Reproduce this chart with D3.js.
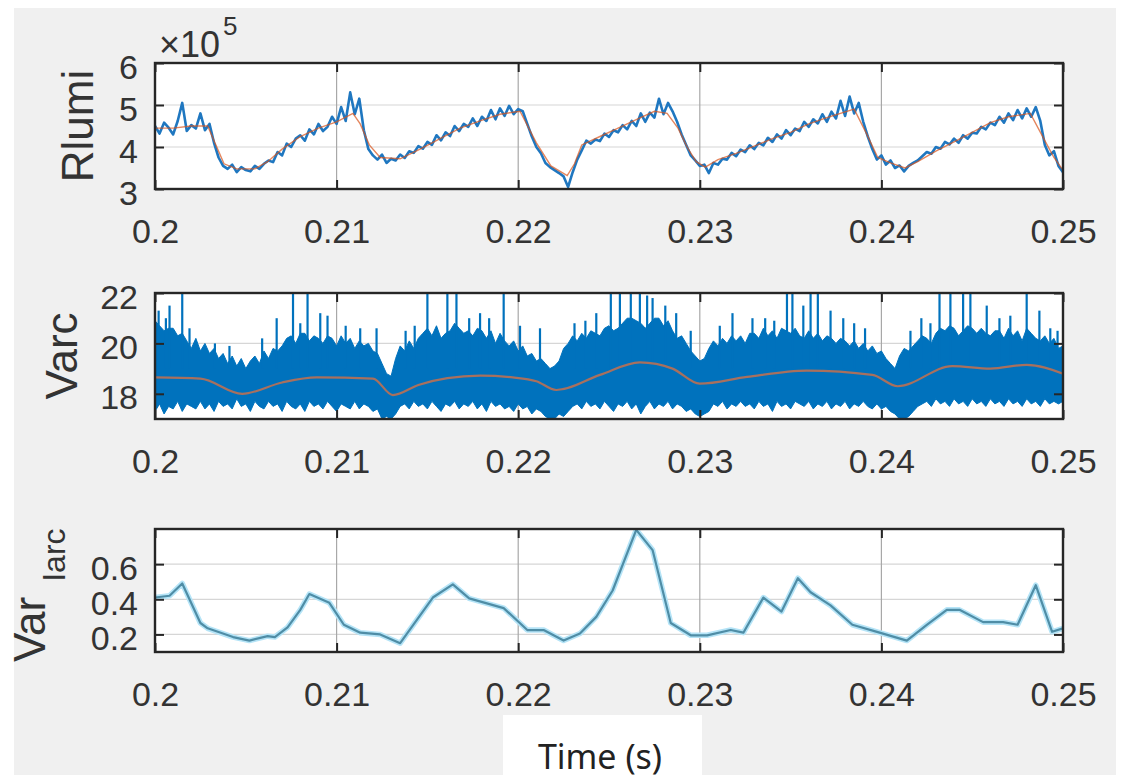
<!DOCTYPE html>
<html>
<head>
<meta charset="utf-8">
<script src="https://cdn.jsdelivr.net/npm/d3@7"></script>
<style>
  body { margin: 0; background: #ffffff; }
  svg { display: block; font-family: "Liberation Sans", Arial, sans-serif; }
</style>
</head>
<body>
<div id="chart"></div>
<script>
// ---- shared x axis ----
const xTicks = [0.2, 0.21, 0.22, 0.23, 0.24, 0.25]
const xTickLabels = ["0.2", "0.21", "0.22", "0.23", "0.24", "0.25"]

// ---- panel 1 : Rlumi (x 10^5), sampled every 0.25 ms from t = 0.2 s ----
const rlumiStart = 0.2
const rlumiStep = 0.00025
const rlumiE5 = [
  4.50, 4.32, 4.58, 4.46, 4.30, 4.62, 5.05, 4.38, 4.52, 4.44,
  4.80, 4.40, 4.55, 4.10, 3.75, 3.55, 3.48, 3.58, 3.40, 3.52,
  3.45, 3.42, 3.55, 3.48, 3.60, 3.68, 3.64, 3.88, 3.80, 4.08,
  4.00, 4.20, 4.28, 4.15, 4.42, 4.30, 4.55, 4.38, 4.48, 4.72,
  4.55, 4.95, 4.62, 5.30, 4.78, 5.15, 4.40, 3.95, 3.80, 3.70,
  3.82, 3.62, 3.72, 3.68, 3.82, 3.74, 3.90, 3.86, 4.02, 3.96,
  4.12, 4.05, 4.28, 4.16, 4.35, 4.26, 4.50, 4.38, 4.55, 4.48,
  4.68, 4.50, 4.72, 4.62, 4.88, 4.66, 4.92, 4.74, 4.98, 4.78,
  4.90, 4.85, 4.55, 4.25, 4.00, 3.85, 3.62, 3.52, 3.45, 3.38,
  3.30, 3.05, 3.40, 3.70, 3.92, 4.15, 4.08, 4.18, 4.14, 4.32,
  4.24, 4.40, 4.35, 4.52, 4.42, 4.62, 4.50, 4.80, 4.60, 4.82,
  4.70, 5.15, 4.78, 5.05, 4.85, 4.60, 4.30, 4.05, 3.80, 3.68,
  3.55, 3.58, 3.38, 3.62, 3.58, 3.72, 3.70, 3.86, 3.78, 3.94,
  3.88, 4.04, 3.95, 4.10, 4.04, 4.22, 4.12, 4.30, 4.20, 4.40,
  4.28, 4.44, 4.38, 4.60, 4.48, 4.66, 4.56, 4.78, 4.60, 4.84,
  4.68, 5.10, 4.74, 5.20, 4.80, 5.05, 4.60, 4.25, 3.95, 3.70,
  3.80, 3.58, 3.68, 3.50, 3.56, 3.42, 3.55, 3.62, 3.68, 3.78,
  3.88, 3.84, 4.00, 3.96, 4.12, 4.06, 4.20, 4.10, 4.28, 4.20,
  4.34, 4.32, 4.48, 4.42, 4.58, 4.52, 4.72, 4.58, 4.80, 4.64,
  4.88, 4.68, 4.92, 4.72, 4.95, 4.62, 4.05, 3.80, 3.90, 3.55,
  3.40
]
// smoothed Rlumi (orange)
const rlumiTrendT = [0.2000, 0.2010, 0.2020, 0.2029, 0.2033, 0.2038, 0.2045, 0.2055, 0.2062, 0.2070,
  0.2080, 0.2090, 0.2100, 0.2109, 0.2113, 0.2118, 0.2124, 0.2135, 0.2146, 0.2157,
  0.2168, 0.2179, 0.2190, 0.2201, 0.2210, 0.2218, 0.2227, 0.2231, 0.2235, 0.2245,
  0.2255, 0.2265, 0.2275, 0.2282, 0.2288, 0.2293, 0.2298, 0.2303, 0.2310, 0.2320,
  0.2330, 0.2340, 0.2350, 0.2360, 0.2370, 0.2385, 0.2392, 0.2398, 0.2405, 0.2413,
  0.2420, 0.2430, 0.2440, 0.2450, 0.2460, 0.2470, 0.2482, 0.2490, 0.2495, 0.2500]
const rlumiTrendE5 = [4.45, 4.45, 4.50, 4.50, 4.10, 3.60, 3.48, 3.48, 3.65, 3.95,
  4.25, 4.45, 4.60, 4.80, 4.55, 4.05, 3.75, 3.72, 3.95, 4.20,
  4.45, 4.62, 4.78, 4.85, 4.10, 3.55, 3.32, 3.60, 4.05, 4.25,
  4.45, 4.65, 4.85, 4.80, 4.45, 4.00, 3.65, 3.52, 3.70, 3.85,
  4.02, 4.20, 4.35, 4.55, 4.70, 4.90, 4.30, 3.75, 3.62, 3.50,
  3.65, 3.90, 4.12, 4.35, 4.58, 4.72, 4.80, 4.15, 3.75, 3.45]
const rlumiYTicks = [3, 4, 5, 6]

// ---- panel 2 : Varc, min / max envelope every 0.25 ms from t = 0.2 s ----
const varcStart = 0.2
const varcStep = 0.00025
const varcHi = [
  20.9, 20.7, 20.5, 20.6, 20.6, 20.3, 20.4, 20.1, 19.8, 20.2,
  19.7, 20.0, 19.6, 19.8, 19.4, 19.6, 19.2, 19.5, 19.1, 19.4,
  19.0, 19.3, 19.5, 19.2, 19.7, 19.4, 19.8, 19.7, 19.9, 20.2,
  20.3, 20.0, 20.4, 20.4, 20.1, 20.3, 20.2, 20.0, 20.3, 20.2,
  19.9, 20.3, 20.0, 20.2, 19.8, 20.1, 19.9, 20.0, 19.7, 19.6,
  19.2, 18.8, 18.7, 19.4, 19.9, 19.7, 20.1, 19.8, 20.2, 20.4,
  20.6, 20.3, 20.7, 20.2, 20.4, 20.5, 20.8, 20.6, 20.4, 20.5,
  20.3, 20.6, 20.5, 20.2, 20.5, 20.0, 20.4, 20.1, 19.9, 20.1,
  19.7, 19.9, 19.5, 19.6, 19.3, 19.4, 19.2, 19.0, 19.1, 19.3,
  19.8, 20.0, 20.3, 20.1, 20.4, 20.2, 20.5, 20.4, 20.3, 20.6,
  20.7, 20.5, 20.6, 20.8, 21.0, 21.0, 20.9, 20.8, 20.6, 20.8,
  21.0, 21.0, 20.7, 20.9, 20.5, 20.2, 20.3, 20.0, 19.7, 19.5,
  19.3, 19.4, 19.8, 20.1, 19.9, 20.2, 20.0, 20.3, 20.1, 20.3,
  20.0, 20.4, 20.4, 20.2, 20.6, 20.3, 20.5, 20.2, 20.6, 20.5,
  20.4, 20.6, 20.3, 20.2, 20.5, 20.2, 20.4, 20.1, 20.3, 20.2,
  20.0, 20.2, 20.1, 19.9, 20.1, 19.8, 20.0, 19.7, 19.9, 19.6,
  19.7, 19.4, 19.2, 19.0, 19.5, 19.8, 19.7, 19.9, 20.1, 20.3,
  20.2, 20.0, 20.4, 20.6, 20.5, 20.7, 20.6, 20.3, 20.5, 20.7,
  20.6, 20.4, 20.6, 20.4, 20.3, 20.5, 20.5, 20.2, 20.6, 20.3,
  20.5, 20.1, 20.6, 20.4, 20.2, 20.1, 20.3, 20.0, 20.2, 19.8,
  19.9
]
const varcLo = [
  17.3, 17.6, 17.2, 17.5, 17.4, 17.7, 17.3, 17.6, 17.5, 17.4,
  17.7, 17.4, 17.6, 17.3, 17.7, 17.5, 17.6, 17.4, 17.8, 17.5,
  17.6, 17.3, 17.7, 17.5, 17.4, 17.7, 17.5, 17.6, 17.3, 17.7,
  17.5, 17.4, 17.6, 17.3, 17.7, 17.5, 17.6, 17.4, 17.7, 17.5,
  17.3, 17.6, 17.5, 17.4, 17.7, 17.4, 17.6, 17.5, 17.3, 17.4,
  17.0, 17.1, 17.0, 17.2, 17.5, 17.6, 17.4, 17.7, 17.5, 17.6,
  17.4, 17.7, 17.5, 17.3, 17.6, 17.5, 17.7, 17.4, 17.6, 17.5,
  17.7, 17.4, 17.6, 17.3, 17.7, 17.5, 17.6, 17.4, 17.5, 17.3,
  17.6, 17.4, 17.5, 17.2, 17.4, 17.3, 17.1, 17.0, 17.0, 17.2,
  17.1, 17.3, 17.5, 17.6, 17.4, 17.7, 17.5, 17.6, 17.4, 17.7,
  17.5, 17.3, 17.6, 17.5, 17.7, 17.4, 17.6, 17.2, 17.5, 17.7,
  17.4, 17.6, 17.5, 17.7, 17.4, 17.6, 17.5, 17.3, 17.4, 17.2,
  17.1, 17.2, 17.3, 17.6, 17.5, 17.7, 17.4, 17.6, 17.5, 17.7,
  17.5, 17.6, 17.4, 17.7, 17.5, 17.6, 17.3, 17.7, 17.5, 17.6,
  17.4, 17.7, 17.6, 17.5, 17.7, 17.4, 17.6, 17.5, 17.7, 17.4,
  17.6, 17.5, 17.7, 17.4, 17.6, 17.5, 17.7, 17.5, 17.4, 17.6,
  17.4, 17.5, 17.3, 17.2, 17.0, 17.0, 17.1, 17.3, 17.5, 17.6,
  17.7, 17.5, 17.8, 17.6, 17.7, 17.5, 17.8, 17.6, 17.7, 17.5,
  17.8, 17.6, 17.7, 17.5, 17.8, 17.6, 17.7, 17.5, 17.8, 17.6,
  17.7, 17.5, 17.8, 17.6, 17.7, 17.5, 17.8, 17.6, 17.7, 17.6,
  17.7
]
// isolated spikes above the band
const varcSpikeT = [0.2002, 0.2006, 0.2008, 0.2015, 0.2019, 0.2033, 0.2041, 0.2059, 0.2067, 0.2076,
  0.2080, 0.2084, 0.2091, 0.2095, 0.2105, 0.2113, 0.2122, 0.2138, 0.2143, 0.2150,
  0.2161, 0.2166, 0.2173, 0.2179, 0.2184, 0.2192, 0.2201, 0.2212, 0.2231, 0.2237,
  0.2243, 0.2251, 0.2256, 0.2262, 0.2267, 0.2271, 0.2274, 0.2281, 0.2287, 0.2295,
  0.2311, 0.2318, 0.2329, 0.2336, 0.2341, 0.2348, 0.2351, 0.2357, 0.2361, 0.2365,
  0.2372, 0.2379, 0.2385, 0.2391, 0.2416, 0.2422, 0.2427, 0.2432, 0.2438, 0.2445,
  0.2449, 0.2458, 0.2465, 0.2471, 0.2480, 0.2487, 0.2493, 0.2497]
const varcSpikeV = [21.3, 21.0, 21.5, 22.0, 20.6, 20.0, 19.9, 20.2, 21.0, 22.0,
  20.8, 22.0, 21.2, 21.1, 20.7, 20.6, 20.6, 20.5, 20.7, 22.0,
  22.0, 22.0, 21.0, 21.2, 21.0, 22.0, 20.7, 20.6, 20.8, 20.9,
  21.2, 22.0, 22.0, 22.0, 22.0, 21.9, 21.8, 21.5, 21.2, 20.5,
  20.7, 21.2, 21.0, 21.0, 20.9, 22.0, 22.0, 21.5, 22.0, 22.0,
  21.3, 21.0, 20.8, 20.6, 20.5, 21.0, 20.8, 22.0, 22.0, 22.0,
  22.0, 21.5, 21.0, 21.1, 22.0, 21.3, 20.6, 20.5]
// smoothed Varc
const varcTrendT = [0.2000, 0.2025, 0.2048, 0.2070, 0.2089, 0.2120, 0.2131, 0.2145, 0.2161, 0.2179,
  0.2197, 0.2210, 0.2221, 0.2245, 0.2267, 0.2285, 0.2300, 0.2326, 0.2359, 0.2395,
  0.2409, 0.2439, 0.2460, 0.2480, 0.2500]
const varcTrend = [18.65, 18.60, 18.00, 18.45, 18.65, 18.60, 17.95, 18.35, 18.62, 18.72,
  18.65, 18.50, 18.15, 18.75, 19.25, 19.00, 18.40, 18.67, 18.92, 18.75,
  18.30, 19.10, 19.00, 19.15, 18.80]
const varcYTicks = [18, 20, 22]

// ---- panel 3 : Var Iarc ----
const iarcT = [0.2000, 0.2008, 0.2015, 0.2025, 0.2029, 0.2043, 0.2052, 0.2062, 0.2066, 0.2073,
  0.2080, 0.2085, 0.2096, 0.2104, 0.2113, 0.2124, 0.2135, 0.2153, 0.2164, 0.2173,
  0.2192, 0.2205, 0.2214, 0.2225, 0.2234, 0.2243, 0.2252, 0.2265, 0.2274, 0.2284,
  0.2295, 0.2304, 0.2317, 0.2324, 0.2335, 0.2345, 0.2354, 0.2361, 0.2372, 0.2384,
  0.2399, 0.2414, 0.2425, 0.2436, 0.2443, 0.2456, 0.2467, 0.2475, 0.2485, 0.2494,
  0.2500]
const iarcVar = [0.410, 0.420, 0.490, 0.265, 0.235, 0.185, 0.165, 0.190, 0.185, 0.240,
  0.340, 0.430, 0.380, 0.255, 0.210, 0.200, 0.150, 0.410, 0.485, 0.405,
  0.350, 0.225, 0.225, 0.165, 0.205, 0.300, 0.450, 0.795, 0.680, 0.265,
  0.195, 0.195, 0.225, 0.210, 0.410, 0.330, 0.520, 0.440, 0.365, 0.255,
  0.210, 0.165, 0.255, 0.340, 0.340, 0.270, 0.270, 0.255, 0.480, 0.215,
  0.235]
const iarcYTicks = [0.2, 0.4, 0.6]
const iarcYTickLabels = ["0.2", "0.4", "0.6"]

function drawChart(container) {
    // Define chart parameters
    const WIDTH = 1124
    const HEIGHT = 781
    const PLOT = {LEFT:155, RIGHT:1063}
    const PANELS = [
        {TOP:63,  BOTTOM:189},
        {TOP:293, BOTTOM:419},
        {TOP:529, BOTTOM:652}
    ]
    const TICK_FONT = 34
    const LABEL_FONT = 44
    const INK = "#333333"
    const BLUE = "#0072BD"
    const ORANGE = "#D95319"

    let svg = d3.select(container).append("svg")
        .attr("width", WIDTH)
        .attr("height", HEIGHT)

    // grey figure background
    svg.append("rect")
        .attr("x", 14).attr("y", 8)
        .attr("width", 1102).attr("height", 767)
        .style("fill", "#f0f0f0")

    let xScale = d3.scaleLinear()
        .domain([0.2, 0.25])
        .range([PLOT.LEFT, PLOT.RIGHT])

    let yScales = [
        d3.scaleLinear().domain([3, 6]).range([PANELS[0].BOTTOM, PANELS[0].TOP]),
        d3.scaleLinear().domain([17, 22]).range([PANELS[1].BOTTOM, PANELS[1].TOP]),
        d3.scaleLinear().domain([0.1, 0.8]).range([PANELS[2].BOTTOM, PANELS[2].TOP])
    ]
    let yTicks = [rlumiYTicks, varcYTicks, iarcYTicks]
    let yTickFormats = [
        d => String(d),
        d => String(d),
        (d, i) => iarcYTickLabels[i]
    ]

    // white axes backgrounds + grid
    PANELS.forEach((p, k) => {
        let g = svg.append("g")
        g.append("rect")
            .attr("x", PLOT.LEFT).attr("y", p.TOP)
            .attr("width", PLOT.RIGHT - PLOT.LEFT).attr("height", p.BOTTOM - p.TOP)
            .style("fill", "#ffffff")
        g.selectAll(".hgrid").data(yTicks[k]).enter().append("line")
            .attr("x1", PLOT.LEFT).attr("x2", PLOT.RIGHT)
            .attr("y1", d => yScales[k](d)).attr("y2", d => yScales[k](d))
            .style("stroke", "#d6d6d6").style("stroke-width", 1.2)
        g.selectAll(".vgrid").data(xTicks).enter().append("line")
            .attr("x1", d => xScale(d)).attr("x2", d => xScale(d))
            .attr("y1", p.TOP).attr("y2", p.BOTTOM)
            .style("stroke", "#a8a8a8").style("stroke-width", 1.2)
        svg.append("clipPath").attr("id", "clip" + k)
            .append("rect")
            .attr("x", PLOT.LEFT).attr("y", p.TOP)
            .attr("width", PLOT.RIGHT - PLOT.LEFT).attr("height", p.BOTTOM - p.TOP)
    })

    // ---- panel 1 lines ----
    let rlumiLine = d3.line()
        .x((d, i) => xScale(rlumiStart + i * rlumiStep))
        .y(d => yScales[0](d))
    svg.append("path")
        .attr("clip-path", "url(#clip0)")
        .attr("d", rlumiLine(rlumiE5))
        .style("fill", "none").style("stroke", "#1f77c0").style("stroke-width", 2.6)
        .style("stroke-linejoin", "round")
    let trendLine1 = d3.line()
        .x((d, i) => xScale(rlumiTrendT[i]))
        .y(d => yScales[0](d))
    svg.append("path")
        .attr("clip-path", "url(#clip0)")
        .attr("d", trendLine1(rlumiTrendE5))
        .style("fill", "none").style("stroke", ORANGE).style("stroke-width", 1.4)
        .style("opacity", 0.7)

    // ---- panel 2 band, spikes, trend ----
    let band = d3.area()
        .x((d, i) => xScale(varcStart + i * varcStep))
        .y0((d, i) => yScales[1](varcLo[i]))
        .y1(d => yScales[1](d))
    svg.append("path")
        .attr("clip-path", "url(#clip1)")
        .attr("d", band(varcHi))
        .style("fill", BLUE).style("stroke", BLUE).style("stroke-width", 1)
    svg.append("g")
        .attr("clip-path", "url(#clip1)")
        .selectAll("line").data(varcSpikeV).enter().append("line")
        .attr("x1", (d, i) => xScale(varcSpikeT[i]))
        .attr("x2", (d, i) => xScale(varcSpikeT[i]))
        .attr("y1", yScales[1](19.0))
        .attr("y2", d => yScales[1](d))
        .style("stroke", BLUE).style("stroke-width", 2.2)
    let trendLine2 = d3.line()
        .x((d, i) => xScale(varcTrendT[i]))
        .y(d => yScales[1](d))
        .curve(d3.curveMonotoneX)
    svg.append("path")
        .attr("clip-path", "url(#clip1)")
        .attr("d", trendLine2(varcTrend))
        .style("fill", "none").style("stroke", "#a8705e").style("stroke-width", 2.2)

    // ---- panel 3 line ----
    let iarcLine = d3.line()
        .x((d, i) => xScale(iarcT[i]))
        .y(d => yScales[2](d))
    svg.append("path")
        .attr("clip-path", "url(#clip2)")
        .attr("d", iarcLine(iarcVar))
        .style("fill", "none").style("stroke", "#b5e4f7").style("stroke-width", 5.5)
        .style("stroke-linejoin", "round")
    svg.append("path")
        .attr("clip-path", "url(#clip2)")
        .attr("d", iarcLine(iarcVar))
        .style("fill", "none").style("stroke", "#4f8da6").style("stroke-width", 2.2)
        .style("stroke-linejoin", "round")

    // ---- ticks, labels and boxes ----
    PANELS.forEach((p, k) => {
        svg.append("g")
            .attr("transform", "translate(0," + p.BOTTOM + ")")
            .call(d3.axisBottom(xScale).tickValues(xTicks).tickFormat((d, i) => xTickLabels[i])
                .tickSizeInner(-9).tickSizeOuter(0))
            .call(g => g.select(".domain").remove())
            .call(g => g.attr("font-size", TICK_FONT).attr("font-family", null))
            .call(g => g.selectAll("text").attr("y", 54).attr("dy", null).style("fill", INK))
            .call(g => g.selectAll("line").style("stroke", "#262626").style("stroke-width", 2))
        svg.append("g")
            .attr("transform", "translate(0," + p.TOP + ")")
            .call(d3.axisTop(xScale).tickValues(xTicks).tickFormat("")
                .tickSizeInner(-9).tickSizeOuter(0))
            .call(g => g.select(".domain").remove())
            .call(g => g.selectAll("line").style("stroke", "#262626").style("stroke-width", 2))
        svg.append("g")
            .attr("transform", "translate(" + PLOT.LEFT + ",0)")
            .call(d3.axisLeft(yScales[k]).tickValues(yTicks[k]).tickFormat(yTickFormats[k])
                .tickSizeInner(-9).tickSizeOuter(0))
            .call(g => g.select(".domain").remove())
            .call(g => g.attr("font-size", TICK_FONT).attr("font-family", null))
            .call(g => g.selectAll("text").attr("x", -17).attr("dy", 15).style("fill", INK))
            .call(g => g.selectAll("line").style("stroke", "#262626").style("stroke-width", 2))
        svg.append("g")
            .attr("transform", "translate(" + PLOT.RIGHT + ",0)")
            .call(d3.axisRight(yScales[k]).tickValues(yTicks[k]).tickFormat("")
                .tickSizeInner(-9).tickSizeOuter(0))
            .call(g => g.select(".domain").remove())
            .call(g => g.selectAll("line").style("stroke", "#262626").style("stroke-width", 2))
        svg.append("rect")
            .attr("x", PLOT.LEFT).attr("y", p.TOP)
            .attr("width", PLOT.RIGHT - PLOT.LEFT).attr("height", p.BOTTOM - p.TOP)
            .style("fill", "none").style("stroke", "#262626").style("stroke-width", 2.4)
    })

    // exponent label
    let expo = svg.append("text")
        .attr("x", 159).attr("y", 57)
        .style("font-size", "36px").style("fill", INK)
    expo.append("tspan").text("\u00d710")
    expo.append("tspan").text("5")
        .attr("dx", 3).attr("dy", -22)
        .style("font-size", "26px")

    // y labels
    svg.append("text")
        .attr("transform", "translate(93," + (PANELS[0].TOP + PANELS[0].BOTTOM) / 2 + ") rotate(-90)")
        .attr("text-anchor", "middle")
        .style("font-size", LABEL_FONT + "px").style("fill", INK)
        .text("Rlumi")
    svg.append("text")
        .attr("transform", "translate(77," + (PANELS[1].TOP + PANELS[1].BOTTOM) / 2 + ") rotate(-90)")
        .attr("text-anchor", "middle")
        .style("font-size", LABEL_FONT + "px").style("fill", INK)
        .text("Varc")
    let varLabel = svg.append("text")
        .attr("transform", "translate(45,662) rotate(-90)")
        .style("font-size", LABEL_FONT + "px").style("fill", INK)
    varLabel.append("tspan").text("Var")
    varLabel.append("tspan").text("Iarc")
        .attr("dx", 15).attr("dy", 20)
        .style("font-size", "32px")

    // pasted x label
    svg.append("rect")
        .attr("x", 503).attr("y", 715)
        .attr("width", 199).attr("height", 66)
        .style("fill", "#ffffff")
    svg.append("text")
        .attr("x", 600).attr("y", 769)
        .attr("text-anchor", "middle")
        .style("font-family", "'Noto Sans', 'Open Sans', sans-serif")
        .style("font-size", "34px").style("fill", "#222222")
        .text("Time (s)")
}

drawChart("#chart")
</script>
</body>
</html>
